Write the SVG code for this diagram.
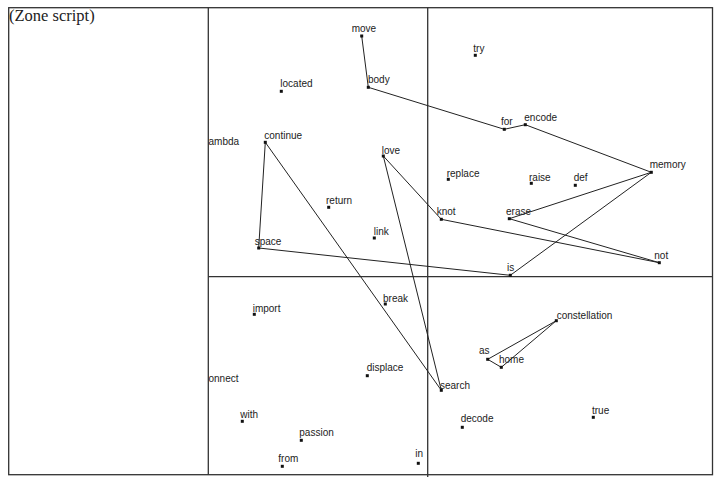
<svg xmlns="http://www.w3.org/2000/svg" width="726" height="483" viewBox="0 0 726 483">
<style>
.frame{fill:none;stroke:#333;stroke-width:1.3}
.edge{fill:none;stroke:#222;stroke-width:1}
.lbl{font-family:"Liberation Sans",Arial,sans-serif;font-size:10px;fill:#222}
.dot{fill:#111}
.title{font-family:"Liberation Serif","Times New Roman",serif;font-size:16.5px;fill:#222}
</style>
<defs><symbol id="d" overflow="visible"><rect x="-1.5" y="-1.5" width="3" height="3" class="dot"/></symbol></defs>
<rect width="726" height="483" fill="#fff"/>
<g id="frame">
<rect class="frame" x="8.7" y="7.7" width="703.8" height="467"/>
<line class="frame" x1="208.3" y1="7.7" x2="208.3" y2="474.7"/>
<line class="frame" x1="427.7" y1="7.7" x2="427.7" y2="477"/>
<line class="frame" x1="208.3" y1="276.7" x2="712.5" y2="276.7"/>
<text class="title" x="9" y="21">(Zone script)</text>
</g>
<g id="connectors">
<polyline class="edge" points="361.7,36 368.3,87.3 504.3,129.3 525.3,124.7 651.3,172.3 509.3,218.7 659.3,262.7 441.3,219.3 383.3,156 441.3,390.3 265.3,142.3 258.7,248 510.3,275.3 651.3,172.3"/>
<polygon class="edge" points="487.7,359.3 556.3,320.7 501.3,367.3"/>
</g>
<g id="move"><use href="#d" x="361.7" y="36"/><text class="lbl" x="351.7" y="32">move</text></g>
<g id="body"><use href="#d" x="368.3" y="87.3"/><text class="lbl" x="368" y="82.7">body</text></g>
<g id="located"><use href="#d" x="281.3" y="91.3"/><text class="lbl" x="280.3" y="86.7">located</text></g>
<g id="continue"><use href="#d" x="265.3" y="142.3"/><text class="lbl" x="264.3" y="139.3">continue</text></g>
<g id="lambda"><text class="lbl" x="208.5" y="145">ambda</text></g>
<g id="love"><use href="#d" x="383.3" y="156"/><text class="lbl" x="381.7" y="154">love</text></g>
<g id="return"><use href="#d" x="328.7" y="207.3"/><text class="lbl" x="326" y="204.3">return</text></g>
<g id="link"><use href="#d" x="374.3" y="238"/><text class="lbl" x="373.7" y="235">link</text></g>
<g id="space"><use href="#d" x="258.7" y="248"/><text class="lbl" x="254.7" y="244.7">space</text></g>
<g id="try"><use href="#d" x="475.3" y="55.3"/><text class="lbl" x="473.3" y="51.5">try</text></g>
<g id="for"><use href="#d" x="504.3" y="129.3"/><text class="lbl" x="501" y="125">for</text></g>
<g id="encode"><use href="#d" x="525.3" y="124.7"/><text class="lbl" x="524.3" y="120.7">encode</text></g>
<g id="memory"><use href="#d" x="651.3" y="172.3"/><text class="lbl" x="649.7" y="167.7">memory</text></g>
<g id="replace"><use href="#d" x="448.3" y="179.3"/><text class="lbl" x="446.7" y="177.3">replace</text></g>
<g id="raise"><use href="#d" x="531.3" y="183.3"/><text class="lbl" x="529" y="181">raise</text></g>
<g id="def"><use href="#d" x="575.3" y="185.3"/><text class="lbl" x="573.7" y="181">def</text></g>
<g id="knot"><use href="#d" x="441.3" y="219.3"/><text class="lbl" x="436.7" y="214.7">knot</text></g>
<g id="erase"><use href="#d" x="509.3" y="218.7"/><text class="lbl" x="506" y="215">erase</text></g>
<g id="not"><use href="#d" x="659.3" y="262.7"/><text class="lbl" x="654.3" y="259">not</text></g>
<g id="is"><use href="#d" x="510.3" y="275.3"/><text class="lbl" x="507" y="271">is</text></g>
<g id="break"><use href="#d" x="385.3" y="304"/><text class="lbl" x="383" y="302.3">break</text></g>
<g id="import"><use href="#d" x="254.3" y="314.3"/><text class="lbl" x="252.7" y="312.3">import</text></g>
<g id="displace"><use href="#d" x="367.3" y="375.7"/><text class="lbl" x="366.7" y="370.7">displace</text></g>
<g id="connect"><text class="lbl" x="208.5" y="382">onnect</text></g>
<g id="with"><use href="#d" x="242.3" y="421.3"/><text class="lbl" x="240.3" y="418.3">with</text></g>
<g id="passion"><use href="#d" x="301.3" y="440.3"/><text class="lbl" x="299.3" y="435.7">passion</text></g>
<g id="from"><use href="#d" x="282.3" y="466.3"/><text class="lbl" x="278.3" y="462.3">from</text></g>
<g id="in"><use href="#d" x="418.3" y="463.3"/><text class="lbl" x="415.3" y="457.3">in</text></g>
<g id="search"><use href="#d" x="441.3" y="390.3"/><text class="lbl" x="440" y="389.3">search</text></g>
<g id="as"><use href="#d" x="487.7" y="359.3"/><text class="lbl" x="479" y="354.3">as</text></g>
<g id="home"><use href="#d" x="501.3" y="367.3"/><text class="lbl" x="499" y="363.3">home</text></g>
<g id="constellation"><use href="#d" x="556.3" y="320.7"/><text class="lbl" x="556.7" y="319">constellation</text></g>
<g id="decode"><use href="#d" x="462.3" y="427.3"/><text class="lbl" x="460.7" y="422.3">decode</text></g>
<g id="true"><use href="#d" x="593.3" y="417.3"/><text class="lbl" x="592" y="414.3">true</text></g>
</svg>
